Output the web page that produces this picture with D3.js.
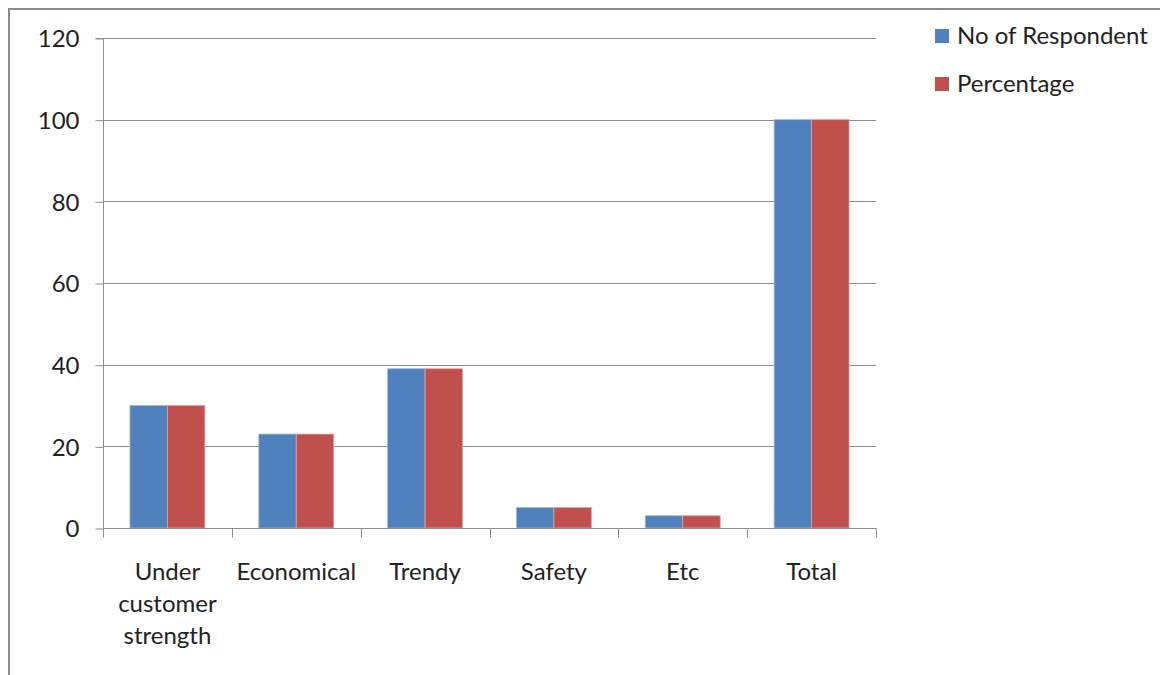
<!DOCTYPE html>
<html>
<head>
<meta charset="utf-8">
<script src="https://cdn.jsdelivr.net/npm/d3@7"></script>
<style>
  html, body { margin: 0; padding: 0; background: #fff; }
  svg { display: block; font-family: Lato, "Open Sans", sans-serif; }
</style>
</head>
<body>
<svg id="chart" width="1160" height="675"></svg>
<script>
// Reasons for choosing the vehicle: respondents and their share
const categories = [["Under", "customer", "strength"], ["Economical"], ["Trendy"], ["Safety"], ["Etc"], ["Total"]];
const categoryKeys = ["Under customer strength", "Economical", "Trendy", "Safety", "Etc", "Total"];
const seriesNames = ["No of Respondent", "Percentage"];
const respondents = [30, 23, 39, 5, 3, 100];
const percentage = [30, 23, 39, 5, 3, 100];
const yTicks = [0, 20, 40, 60, 80, 100, 120];
const colors = ["#4F81BD", "#C0504D"];
const strokes = ["#9DB8DC", "#E0A2A0"];

const series = [respondents, percentage];
const fontSize = 24;

const svg = d3.select("#chart");

// outer frame
svg.append("rect")
  .attr("x", 9).attr("y", 9)
  .attr("width", 1160).attr("height", 700)
  .attr("fill", "none")
  .attr("stroke", "#8c8c8c")
  .attr("stroke-width", 2);

const plotLeft = 103, plotRight = 876, plotTop = 38, plotBottom = 528;

const x = d3.scaleBand().domain(categoryKeys).range([plotLeft, plotRight]).paddingInner(0).paddingOuter(0);
const y = d3.scaleLinear().domain([0, 120]).range([plotBottom, plotTop]);
const inner = d3.scaleBand().domain([0, 1]).range([0, x.bandwidth()]).paddingOuter(0.72).paddingInner(0);

// gridlines
svg.append("g")
  .selectAll("line")
  .data(yTicks.filter(d => d > 0))
  .join("line")
  .attr("x1", plotLeft).attr("x2", plotRight)
  .attr("y1", d => Math.round(y(d)) + 0.5).attr("y2", d => Math.round(y(d)) + 0.5)
  .attr("stroke", "#8e8e8e").attr("stroke-width", 1);

// bars
const groups = svg.append("g")
  .selectAll("g")
  .data(categoryKeys)
  .join("g")
  .attr("transform", d => `translate(${x(d)},0)`);

groups.selectAll("rect")
  .data((d, i) => series.map((s, k) => ({ k, v: s[i] })))
  .join("rect")
  .attr("x", d => inner(d.k))
  .attr("width", inner.bandwidth())
  .attr("y", d => y(d.v))
  .attr("height", d => plotBottom - y(d.v))
  .attr("fill", d => colors[d.k])
  .attr("stroke", d => strokes[d.k])
  .attr("stroke-width", 0.8);

// y axis
const yAxis = d3.axisLeft(y).tickValues(yTicks).tickSize(8).tickPadding(16);
const gy = svg.append("g").attr("transform", `translate(${plotLeft + 0.5},0.5)`).call(yAxis);
gy.select(".domain").attr("stroke", "#8e8e8e").attr("d", `M-8,${plotTop}H0V${plotBottom}`);
gy.selectAll(".tick line").attr("stroke", "#8e8e8e");
gy.selectAll(".tick text").attr("font-size", fontSize).attr("fill", "#222").attr("font-family", "Lato, sans-serif").attr("dy", "0.34em");

// x axis
const xAxis = d3.axisBottom(x).tickSize(0).tickFormat(() => "");
const gx = svg.append("g").attr("transform", `translate(0.5,${plotBottom + 0.5})`).call(xAxis);
gx.select(".domain").attr("stroke", "#8e8e8e").attr("d", `M${plotLeft},0H${plotRight}`);
gx.selectAll(".sep")
  .data(d3.range(categoryKeys.length + 1))
  .join("line")
  .attr("class", "sep")
  .attr("x1", i => Math.round(plotLeft + i * x.bandwidth()))
  .attr("x2", i => Math.round(plotLeft + i * x.bandwidth()))
  .attr("y1", 0).attr("y2", 9)
  .attr("stroke", "#8e8e8e");

// category labels
svg.append("g")
  .selectAll("text")
  .data(categoryKeys)
  .join("text")
  .attr("x", d => x(d) + x.bandwidth() / 2)
  .attr("y", 580)
  .attr("text-anchor", "middle")
  .attr("font-size", fontSize)
  .attr("fill", "#222")
  .each(function (d, i) {
    d3.select(this).selectAll("tspan")
      .data(categories[i])
      .join("tspan")
      .attr("x", x(d) + x.bandwidth() / 2)
      .attr("dy", (t, j) => j === 0 ? 0 : 32)
      .text(t => t);
  });

// legend
const legend = svg.append("g")
  .selectAll("g")
  .data(seriesNames)
  .join("g")
  .attr("transform", (d, i) => `translate(935,${29 + i * 48})`);
legend.append("rect")
  .attr("width", 14).attr("height", 14)
  .attr("fill", (d, i) => colors[i]);
legend.append("text")
  .attr("x", 22).attr("y", 15)
  .attr("font-size", fontSize)
  .attr("fill", "#222")
  .text(d => d);
</script>
</body>
</html>
